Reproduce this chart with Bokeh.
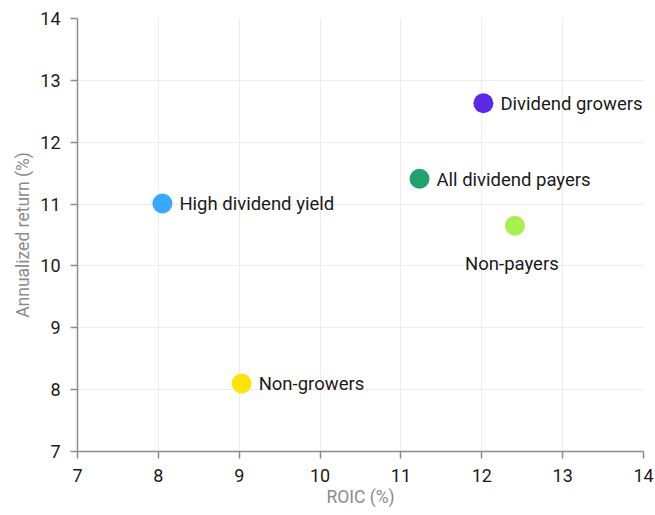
from bokeh.plotting import figure
from bokeh.models import ColumnDataSource, FixedTicker, Range1d, LabelSet
from bokeh.core.properties import value
from bokeh.embed import file_html
from bokeh.resources import INLINE

names = ["Dividend growers", "All dividend payers", "High dividend yield", "Non-payers", "Non-growers"]
roic = [12.02, 11.23, 8.05, 12.41, 9.03]
ret = [12.63, 11.41, 11.01, 10.65, 8.10]
colors = ["#5a28e6", "#20a26f", "#3aa8ff", "#a8f050", "#ffe20a"]
x_ticks = [7, 8, 9, 10, 11, 12, 13, 14]
y_ticks = [7, 8, 9, 10, 11, 12, 13, 14]

FONT = "Roboto"

p = figure(width=655, height=515, output_backend="svg", toolbar_location=None,
           x_range=Range1d(7, 14), y_range=Range1d(7, 14),
           min_border_left=77, min_border_right=12, min_border_top=18, min_border_bottom=64)
p.outline_line_color = None
p.background_fill_color = "white"
p.border_fill_color = "white"

src = ColumnDataSource(dict(x=roic, y=ret, name=names, color=colors))
p.scatter("x", "y", source=src, size=20, fill_color="color", line_color=None)

side = [i for i, n in enumerate(names) if n != "Non-payers"]
side_src = ColumnDataSource(dict(x=[roic[i] for i in side], y=[ret[i] for i in side],
                                 name=[names[i] for i in side]))
p.add_layout(LabelSet(x="x", y="y", text="name", source=side_src, x_offset=17, y_offset=-1,
                      text_align="left", text_baseline="middle", text_font=value(FONT),
                      text_font_size=value("18.5px"), text_color=value("#1a1a1a")))
below = [i for i, n in enumerate(names) if n == "Non-payers"]
below_src = ColumnDataSource(dict(x=[roic[i] for i in below], y=[ret[i] for i in below],
                                  name=[names[i] for i in below]))
p.add_layout(LabelSet(x="x", y="y", text="name", source=below_src, x_offset=-3, y_offset=-38,
                      text_align="center", text_baseline="middle", text_font=value(FONT),
                      text_font_size=value("18.5px"), text_color=value("#1a1a1a")))

for ax, ticks in ((p.xaxis, x_ticks), (p.yaxis, y_ticks)):
    ax.ticker = FixedTicker(ticks=ticks)
    ax.axis_line_color = "#8c8c8c"
    ax.axis_line_width = 1.5
    ax.major_tick_line_color = "#8c8c8c"
    ax.major_tick_line_width = 1.5
    ax.major_tick_out = 7
    ax.major_tick_in = 0
    ax.minor_tick_line_color = None
    ax.major_label_text_font = FONT
    ax.major_label_text_font_size = "18px"
    ax.major_label_text_color = "#1a1a1a"
    ax.axis_label_text_font = FONT
    ax.axis_label_text_font_size = "17.5px"
    ax.axis_label_text_font_style = "normal"
    ax.axis_label_text_color = "#8c8c8c"

p.xaxis.axis_label = "ROIC (%)"
p.yaxis.axis_label = "Annualized return (%)"
p.xaxis.major_label_standoff = 10
p.yaxis.major_label_standoff = 10
p.xaxis.axis_label_standoff = 2
p.yaxis.axis_label_standoff = 4

p.grid.grid_line_color = "#ececec"
p.grid.grid_line_width = 1

open("out.html", "w").write(file_html(p, INLINE))
